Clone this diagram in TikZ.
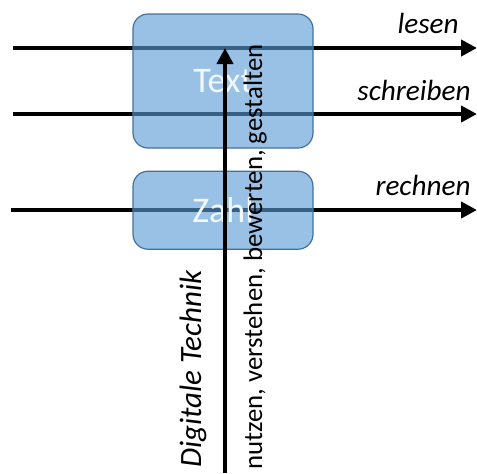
\documentclass[tikz,border=0pt]{standalone}
\usepackage{fontspec}
\setmainfont{Carlito}
\usetikzlibrary{positioning,arrows.meta}
\definecolor{boxblue}{HTML}{5B9BD5}
\definecolor{boxline}{HTML}{41719C}

\begin{document}
\begin{tikzpicture}[x=0.5pt, y=-0.5pt, node distance=11pt,
  block/.style={draw=boxline, line width=0.6pt, fill=boxblue, fill opacity=0.62, text opacity=1, text=white!92!boxblue, rounded corners=7.5pt, minimum width=90pt, font=\fontsize{18}{20}\selectfont},
  flow/.style={-{Triangle[length=8pt,width=8pt]}, line width=2pt},
  verb/.style={inner sep=0pt, font=\fontsize{14.6}{16}\selectfont\itshape}]

  \useasboundingbox (0,0) rectangle (477,473);

  % Horizontal arrows
  \coordinate (L1) at (13,48);
  \coordinate (R1) at (477,48);
  \coordinate (L2) at (13,114);
  \coordinate (R2) at (477,114);
  \coordinate (L3) at (11,210);
  \coordinate (R3) at (477,210);
  \draw[flow] (L1) -- (R1);
  \draw[flow] (L2) -- (R2);
  \draw[flow] (L3) -- (R3);

  % Boxes
  \node[block, minimum height=67pt] (T1) at (223,81) {Text};
  \node[block, minimum height=39pt, below=11pt of T1] (Z1) {Zahl};

  % Vertical arrow
  \coordinate (B1) at (225,473);
  \draw[flow] (B1) -- (B1 |- R1);

  % Labels
  \node[verb, anchor=base east] (lesen) at (459,33) {lesen};
  \node[verb, anchor=base east] (schreiben) at (471,100) {schreiben};
  \node[verb, anchor=base east] (rechnen) at (471,195) {rechnen};
  \node[verb, rotate=90, anchor=base west, font=\fontsize{15.5}{17}\selectfont\itshape] (DT) at (201,468) {Digitale Technik};
  \node[inner sep=0pt, rotate=90, anchor=base west, font=\fontsize{13.4}{15}\selectfont] (NV) at (262,470) {nutzen, verstehen, bewerten, gestalten};

\end{tikzpicture}
\end{document}
